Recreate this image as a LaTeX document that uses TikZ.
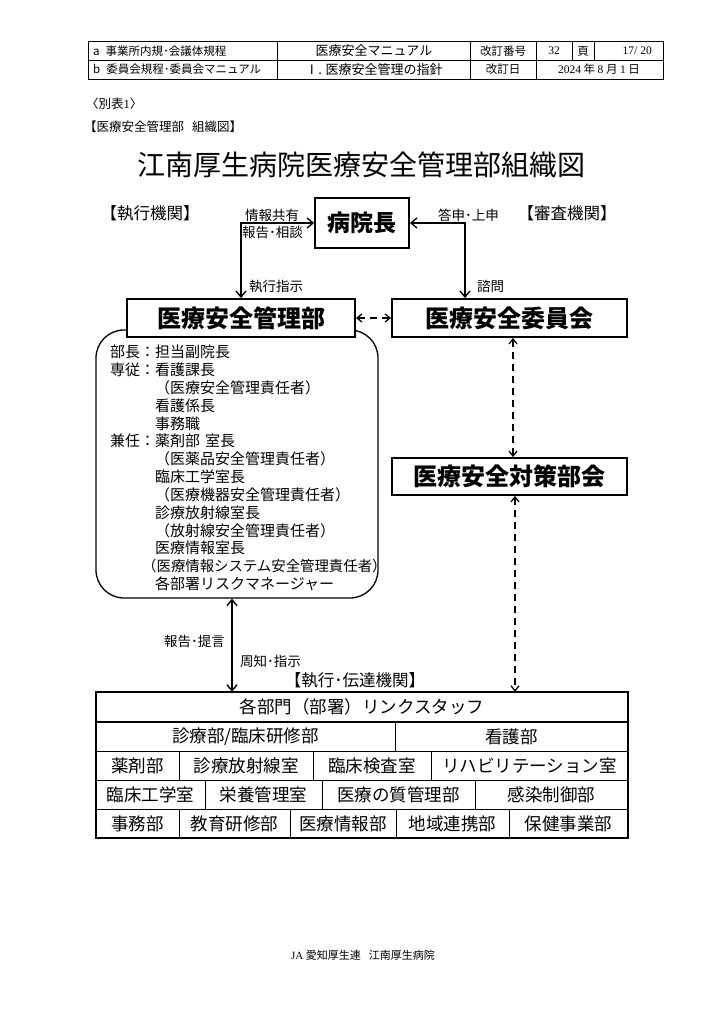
\documentclass[tikz,border=0pt]{standalone}
\usepackage{fontspec}
\setmainfont{Noto Sans CJK JP}
\newfontfamily\latinserif{Liberation Serif}
\usetikzlibrary{arrows.meta}
\tikzset{
  bigbox/.style={draw, line width=1.8pt, fill=white, inner sep=0pt,
    font=\fontsize{24}{26}\selectfont\bfseries},
  lbl/.style={inner sep=0pt, font=\fontsize{13.5}{15}\selectfont},
  sect/.style={inner sep=0pt, font=\fontsize{16.5}{18}\selectfont},
  hdr/.style={inner sep=0pt, font=\fontsize{11.5}{13}\selectfont},
  body/.style={inner sep=0pt, anchor=west, font=\fontsize{15}{16}\selectfont},
  cell/.style={inner sep=0pt, font=\fontsize{17.5}{19}\selectfont},
  tip/.tip={Straight Barb[length=6pt,width=10pt,line width=1.4pt]},
  dtip/.tip={Straight Barb[length=5pt,width=8pt,line width=1.3pt]},
  arr/.style={line width=1.4pt, tip-tip},
  darr/.style={line width=1.4pt, dtip-dtip, dash pattern=on 7pt off 5pt},
  grid/.style={line width=0.8pt},
}
\begin{document}
\begin{tikzpicture}[x=1pt,y=-1pt]
\useasboundingbox[fill=white] (0,0) rectangle (724,1024);

% ---------- header table ----------
\draw[line width=0.6pt] (88,41) rectangle (663,79);
\draw[line width=0.6pt] (88,60) -- (663,60);
\draw[line width=0.6pt] (277,41) -- (277,79);
\draw[line width=0.6pt] (470,41) -- (470,79);
\draw[line width=0.6pt] (536,41) -- (536,79);
\draw[line width=0.6pt] (572,41) -- (572,60);
\draw[line width=0.6pt] (594,41) -- (594,60);
\node[hdr, anchor=west] (ha) at (93,51) {a\hspace{6pt}事業所内規･会議体規程};
\node[hdr, anchor=west] (hb) at (93,69.5) {b\hspace{6pt}委員会規程･委員会マニュアル};
\node[hdr, font=\fontsize{13}{14}\selectfont] (hm1) at (374,51) {医療安全マニュアル};
\node[hdr, font=\fontsize{13}{14}\selectfont] (hm2) at (374,69.5) {Ⅰ. 医療安全管理の指針};
\node[hdr] (hr1) at (503,51) {改訂番号};
\node[hdr] (hr2) at (554,51) {\latinserif 32};
\node[hdr] (hr3) at (583,51) {頁};
\node[hdr, anchor=east] (hr4) at (652,51) {\latinserif 17/ 20};
\node[hdr] (hr5) at (503,69.5) {改訂日};
\node[hdr] (hr6) at (599,69.5) {{\latinserif 2024} 年 {\latinserif 8} 月 {\latinserif 1} 日};

% ---------- captions ----------
\node[hdr, anchor=west, font=\fontsize{12.5}{14}\selectfont] (bep) at (86,104) {〈別表{\latinserif 1}〉};
\node[hdr, anchor=west, font=\fontsize{12.5}{14}\selectfont] (cap) at (84,127) {【医療安全管理部\hspace{8pt}組織図】};
\node[inner sep=0pt, font=\fontsize{28}{30}\selectfont] (title) at (361,165) {江南厚生病院医療安全管理部組織図};

% ---------- section labels ----------
\node[sect] (s1) at (150,213) {【執行機関】};
\node[sect] (s2) at (567,213) {【審査機関】};

% ---------- main boxes ----------
\node[bigbox, font=\fontsize{23}{25}\selectfont\bfseries, minimum width=94pt, minimum height=50pt] (byo) at (362,223) {病院長};
\node[draw, line width=1.3pt, rounded corners=28pt, minimum width=282pt, minimum height=268pt] (rb) at (237,464) {};
\node[bigbox, minimum width=228pt, minimum height=38pt] (kan) at (241,318) {医療安全管理部};
\node[bigbox, minimum width=235pt, minimum height=38pt] (iin) at (509.5,318) {医療安全委員会};
\node[bigbox, minimum width=235pt, minimum height=37pt] (tai) at (509.5,476.5) {医療安全対策部会};

% ---------- arrows top ----------
\draw[arr] (kan.north) |- (byo.west);
\draw[arr] ([xshift=-44.5pt]iin.north) |- (byo.east);
\draw[darr] (kan.east) -- (iin.west);
\draw[darr] ([xshift=3.5pt]iin.south) -- ([xshift=3.5pt]tai.north);

\node[lbl, anchor=south west] (q1) at (245,222) {情報共有};
\node[lbl, anchor=north west] (q2) at (242,226) {報告･相談};
\node[lbl, anchor=south west] (q3) at (438,222) {答申･上申};
\node[lbl, anchor=west] (q4) at (249,286) {執行指示};
\node[lbl, anchor=west] (q5) at (477,286) {諮問};

% ---------- rounded box text ----------
\node[body] (t1) at (110,352) {部長：担当副院長};
\node[body] (t2) at (110,369.8) {専従：看護課長};
\node[body] (t3) at (155,387.7) {（医療安全管理責任者）};
\node[body] (t4) at (155,405.5) {看護係長};
\node[body] (t5) at (155,423.4) {事務職};
\node[body] (t6) at (110,441.2) {兼任：薬剤部\hspace{5pt}室長};
\node[body] (t7) at (155,459.1) {（医薬品安全管理責任者）};
\node[body] (t8) at (155,476.9) {臨床工学室長};
\node[body] (t9) at (155,494.8) {（医療機器安全管理責任者）};
\node[body] (t10) at (155,512.6) {診療放射線室長};
\node[body] (t11) at (155,530.5) {（放射線安全管理責任者）};
\node[body] (t12) at (155,548.3) {医療情報室長};
\node[body, font=\fontsize{14.4}{16}\selectfont] (t13) at (142,566.2) {（医療情報システム安全管理責任者）};
\node[body] (t14) at (155,584) {各部署リスクマネージャー};

% ---------- bottom table ----------
\node[inner sep=0pt, minimum width=532pt, minimum height=30pt, cell] (r1) at (362,707) {各部門（部署）リンクスタッフ};
\draw[grid] (96,751) -- (628,751);
\draw[grid] (96,780) -- (628,780);
\draw[grid] (96,809) -- (628,809);
\draw[grid] (395,722) -- (395,751);
\draw[grid] (179,751) -- (179,780);
\draw[grid] (313,751) -- (313,780);
\draw[grid] (431,751) -- (431,780);
\draw[grid] (205,780) -- (205,809);
\draw[grid] (322,780) -- (322,809);
\draw[grid] (475,780) -- (475,809);
\draw[grid] (179,809) -- (179,838);
\draw[grid] (290,809) -- (290,838);
\draw[grid] (396,809) -- (396,838);
\draw[grid] (509,809) -- (509,838);
\draw[line width=2pt] (96,722) -- (628,722);
\draw[line width=2.2pt] (96,692) rectangle (628,838);

\node[cell] (c21) at (245.5,736.5) {診療部/臨床研修部};
\node[cell] (c22) at (511.5,736.5) {看護部};
\node[cell] (c31) at (137.5,765.5) {薬剤部};
\node[cell] (c32) at (246,765.5) {診療放射線室};
\node[cell] (c33) at (372,765.5) {臨床検査室};
\node[cell] (c34) at (529.5,765.5) {リハビリテーション室};
\node[cell] (c41) at (150.5,794.5) {臨床工学室};
\node[cell] (c42) at (263.5,794.5) {栄養管理室};
\node[cell] (c43) at (398.5,794.5) {医療の質管理部};
\node[cell] (c44) at (551.5,794.5) {感染制御部};
\node[cell] (c51) at (137.5,823.5) {事務部};
\node[cell] (c52) at (234.5,823.5) {教育研修部};
\node[cell] (c53) at (343,823.5) {医療情報部};
\node[cell] (c54) at (452.5,823.5) {地域連携部};
\node[cell] (c55) at (568.5,823.5) {保健事業部};

% ---------- lower arrows ----------
\coordinate (ra) at ([xshift=-5pt]rb.south);
\coordinate (rd) at ([xshift=5.5pt]tai.south);
\draw[arr] (ra) -- (ra |- r1.north);
\draw[darr] (rd) -- (rd |- r1.north);
\node[lbl, anchor=east] (q6) at (225,641) {報告･提言};
\node[lbl, anchor=west] (q7) at (240,661) {周知･指示};
\node[sect] (s3) at (355,680) {【執行･伝達機関】};

% ---------- footer ----------
\node[hdr, font=\fontsize{11}{12}\selectfont] (foot) at (363,955) {{\latinserif JA} 愛知厚生連\hspace{8pt}江南厚生病院};
\end{tikzpicture}
\end{document}
